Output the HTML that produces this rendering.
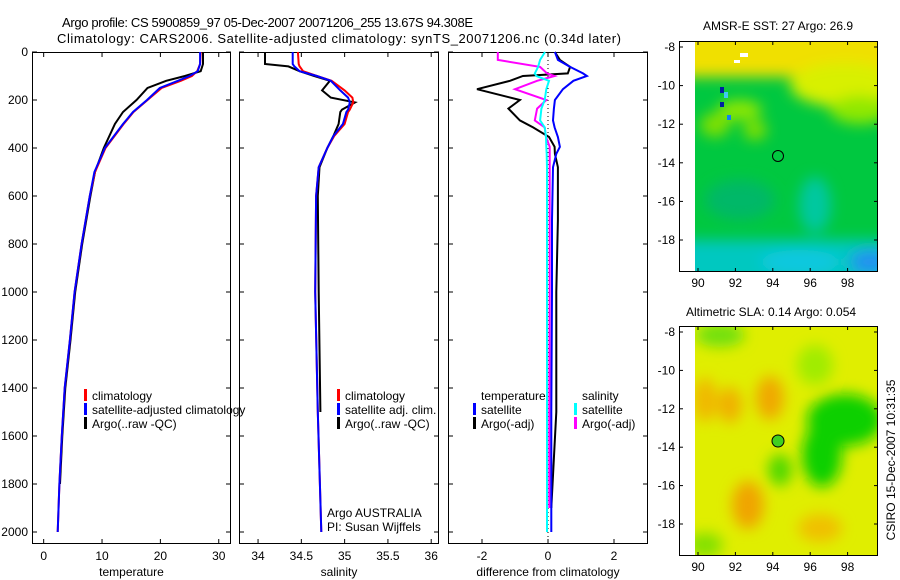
<!DOCTYPE html>
<html><head><meta charset="utf-8"><style>
body{margin:0;background:#fff}
svg{display:block;font-family:"Liberation Sans",sans-serif}
</style></head><body>
<svg id="fig" width="900" height="580" viewBox="0 0 900 580">
<defs>
<filter id="bl" x="-30%" y="-30%" width="160%" height="160%"><feGaussianBlur stdDeviation="7"/></filter>
<clipPath id="c1"><rect x="695" y="41" width="183" height="231"/></clipPath>
<clipPath id="c2"><rect x="695" y="326" width="183" height="230"/></clipPath>
</defs>
<text x="62" y="27" font-size="13" textLength="411">Argo profile: CS 5900859_97 05-Dec-2007 20071206_255 13.67S 94.308E</text>
<text x="57" y="43" font-size="13" textLength="564">Climatology: CARS2006. Satellite-adjusted climatology: synTS_20071206.nc (0.34d later)</text>
<g id="plots"></g>
<!-- SST map -->
<g>
<text x="778" y="30" font-size="12" text-anchor="middle">AMSR-E SST: 27 Argo: 26.9</text>
<g clip-path="url(#c1)">
<rect x="695" y="41" width="183" height="231" fill="#00c840"/>
<g filter="url(#bl)">
<rect x="680" y="25" width="220" height="52" fill="#f0e000"/>
<ellipse cx="845" cy="85" rx="55" ry="22" fill="#d8f000"/>
<ellipse cx="860" cy="110" rx="30" ry="14" fill="#90e800"/>
<ellipse cx="740" cy="110" rx="22" ry="10" fill="#90e800"/>
<ellipse cx="715" cy="125" rx="15" ry="12" fill="#80e000"/>
<ellipse cx="755" cy="130" rx="12" ry="10" fill="#80e000"/>
<ellipse cx="815" cy="205" rx="16" ry="28" fill="#00c8a0"/>
<ellipse cx="740" cy="200" rx="35" ry="20" fill="#00b868"/>
<rect x="680" y="240" width="220" height="45" fill="#00c8c0"/>
<ellipse cx="800" cy="262" rx="40" ry="12" fill="#10c8e0"/>
<ellipse cx="870" cy="262" rx="20" ry="12" fill="#2090f0"/>
</g>
<rect x="720" y="87" width="4" height="6" fill="#0020a0"/>
<rect x="724" y="92" width="4" height="6" fill="#40c8f0"/>
<rect x="720" y="102" width="4" height="5" fill="#0020a0"/>
<rect x="727" y="115" width="4" height="5" fill="#1080f0"/>
<rect x="740" y="53" width="8" height="4" fill="#fff"/>
<rect x="734" y="60" width="6" height="3" fill="#fff"/>
</g>
<rect x="679.5" y="41.5" width="198" height="230" fill="none" stroke="#000"/>
<circle cx="778" cy="156" r="5.5" fill="none" stroke="#000"/>
<g id="map1ax"></g>
</g>
<!-- SLA map -->
<g>
<text x="771" y="316" font-size="12" text-anchor="middle">Altimetric SLA: 0.14 Argo: 0.054</text>
<g clip-path="url(#c2)">
<rect x="695" y="326" width="183" height="230" fill="#e0ee00"/>
<g filter="url(#bl)">
<ellipse cx="720" cy="335" rx="25" ry="12" fill="#70e010"/>
<ellipse cx="815" cy="365" rx="18" ry="20" fill="#a0ec00"/>
<ellipse cx="705" cy="400" rx="12" ry="22" fill="#f0b800"/>
<ellipse cx="730" cy="405" rx="12" ry="18" fill="#f0b000"/>
<ellipse cx="770" cy="398" rx="14" ry="22" fill="#f0a800"/>
<ellipse cx="748" cy="505" rx="16" ry="24" fill="#f0a400"/>
<ellipse cx="845" cy="420" rx="38" ry="26" fill="#10d000"/>
<ellipse cx="822" cy="455" rx="20" ry="32" fill="#10d000"/>
<ellipse cx="780" cy="470" rx="12" ry="16" fill="#50d800"/>
<ellipse cx="820" cy="528" rx="22" ry="14" fill="#f0c000"/>
<ellipse cx="705" cy="545" rx="18" ry="12" fill="#80e000"/>
</g>
</g>
<rect x="679.5" y="326.5" width="198" height="229" fill="none" stroke="#000"/>
<circle cx="778" cy="441" r="6" fill="#40d020" stroke="#000"/>
<g id="map2ax"></g>
</g>
<text transform="translate(895,460) rotate(-90)" font-size="12" text-anchor="middle">CSIRO 15-Dec-2007 10:31:35</text>
</svg>
<script>
// ---- data ----
const tDepth = [0,50,80,100,120,150,200,250,300,400,500,600,800,1000,1200,1400,1600,1800,2000];
const tClim  = [26.9,26.8,26.3,25.4,23.5,20.2,17.8,15.4,13.7,10.6,8.8,7.9,6.5,5.3,4.5,3.6,3.1,2.7,2.4];
const tSat   = [26.8,26.8,26.4,25.0,23.0,19.9,17.7,15.3,13.6,10.5,8.7,7.9,6.5,5.3,4.5,3.6,3.1,2.7,2.4];
const tArgo  = [27.3,27.3,26.9,24.2,21.0,17.8,15.9,13.6,12.2,10.3,8.8,8.0,6.6,5.4,4.6,3.7,3.2,2.8];
const sDepth = [0,50,60,80,100,120,160,190,210,240,250,300,350,400,480,600,1000,1500,2000];
const sClim  = [34.46,34.47,34.48,34.52,34.68,34.85,35.0,35.09,35.10,35.06,35.04,35.0,34.88,34.80,34.70,34.67,34.66,34.69,34.73];
const sSat   = [34.40,34.40,34.42,34.48,34.68,34.84,34.95,35.04,35.06,35.04,35.02,34.98,34.87,34.80,34.70,34.67,34.66,34.69,34.73];
const sArgo  = [34.08,34.08,34.35,34.48,34.65,34.83,34.74,34.84,35.12,34.97,34.95,34.93,34.87,34.80,34.71,34.69,34.70,34.72];
const dDepth = [0,33,62,89,100,120,155,200,236,285,314,354,395,424,480,700,1000,1500,1900,2000];
const dTSat  = [0.21,0.3,0.67,1.06,1.18,0.77,0.45,0.21,0.18,0.15,0.2,0.3,0.36,0.25,0.15,0.12,0.12,0.1,0.1,0.1];
const dTArgo = [0.21,0.36,0.67,0.6,-0.76,-1.15,-2.15,-0.85,-1.2,-0.85,-0.45,0.03,0.2,0.21,0.3,0.3,0.25,0.25,0.1];
const dSSat  = [-0.09,-0.24,-0.3,-0.4,-0.35,0.03,-0.05,-0.1,-0.2,-0.24,-0.1,-0.06,-0.05,-0.04,-0.03,-0.03,-0.03,-0.03,-0.03,-0.03];
const dSArgo = [-1.52,-1.52,-0.24,-0.03,0.2,-0.33,-1.0,-0.05,-0.33,-0.4,-0.1,-0.06,0.05,0.05,0.05,0.05,0.05,0.04,0.04];
const depthTicks = [0,200,400,600,800,1000,1200,1400,1600,1800,2000];
const tTicks = [0,10,20,30];
const sTicks = [34,34.5,35,35.5,36];
const dTicks = [-2,0,2];
const lonTicks = [90,92,94,96,98];
const latTicks = [-8,-10,-12,-14,-16,-18];

const NS='http://www.w3.org/2000/svg';
const Y0=52, Y1=544, DMAX=2050;
const yD = d => Y0 + d/DMAX*(Y1-Y0);
function mk(tag, attrs, parent){const e=document.createElementNS(NS,tag);for(const k in attrs)e.setAttribute(k,attrs[k]);parent.appendChild(e);return e;}
const G=document.getElementById('plots');
function panel(name,x0,x1,vmin,vmax,ticks,label,leftLabels){
  const sx=v=>x0+(v-vmin)/(vmax-vmin)*(x1-x0);
  const g=mk('g',{},G);
  
  
  const fr=mk('rect',{x:x0+.5,y:Y0+.5,width:x1-x0-1,height:Y1-Y0-1,fill:'none',stroke:'#000'},g);
  
  
  depthTicks.forEach(d=>{
    const y=yD(d);
    mk('line',{x1:x0,x2:x0+5,y1:y,y2:y,stroke:'#000'},g);
    mk('line',{x1:x1-5,x2:x1,y1:y,y2:y,stroke:'#000'},g);
    if(leftLabels){const t=mk('text',{x:28,y:y+4,'font-size':12,'text-anchor':'end'},g);t.textContent=d;
      
      }
  });
  ticks.forEach(v=>{
    const x=sx(v);
    mk('line',{x1:x,x2:x,y1:Y1-5,y2:Y1,stroke:'#000'},g);
    mk('line',{x1:x,x2:x,y1:Y0,y2:Y0+5,stroke:'#000'},g);
    const t=mk('text',{x:x,y:Y1+16,'font-size':12,'text-anchor':'middle'},g);t.textContent=v;
    
    
  });
  const xl=mk('text',{x:(x0+x1)/2,y:576,'font-size':12,'text-anchor':'middle'},g);xl.textContent=label;
  
  
  return {g,sx};
}
function line(p,depths,vals,color,nm){
  const pts=vals.map((v,i)=>p.sx(v).toFixed(1)+','+yD(depths[i]).toFixed(1)).join(' ');
  const e=mk('polyline',{points:pts,fill:'none',stroke:color,'stroke-width':2},p.g);
  
  
}
function legend(g,x,y,items){
  items.forEach((it,i)=>{
    const yy=y+i*14;
    if(it[1]) mk('rect',{x:x,y:yy-9,width:3,height:12,fill:it[1]},g);
    const t=mk('text',{x:x+8,y:yy+2,'font-size':12},g);t.textContent=it[0];
    
    
  });
}
const p1=panel('temperature-panel',32,231,-2,32.1,tTicks,'temperature',true);
line(p1,tDepth,tArgo,'#000','temp-argo-line');
line(p1,tDepth,tClim,'#f00','temp-climatology-line');
line(p1,tDepth,tSat,'#00f','temp-satellite-line');
legend(p1.g,84,398,[['climatology','#f00'],['satellite-adjusted climatology','#00f'],['Argo(..raw -QC)','#000']]);

const p2=panel('salinity-panel',239,439,33.78,36.09,sTicks,'salinity',false);
line(p2,sDepth,sArgo,'#000','sal-argo-line');
line(p2,sDepth,sClim,'#f00','sal-climatology-line');
line(p2,sDepth,sSat,'#00f','sal-satellite-line');
legend(p2.g,337,398,[['climatology','#f00'],['satellite adj. clim.','#00f'],['Argo(..raw -QC)','#000']]);
[['Argo AUSTRALIA',517],['PI: Susan Wijffels',531]].forEach(a=>{const t=mk('text',{x:327,y:a[1],'font-size':12},p2.g);t.textContent=a[0];
  
  });

const p3=panel('difference-panel',448,648,-3.03,3.03,dTicks,'difference from climatology',false);
mk('line',{x1:p3.sx(0),x2:p3.sx(0),y1:Y0,y2:Y1,stroke:'#000','stroke-dasharray':'1,3'},p3.g);
line(p3,dDepth.slice(0,dTArgo.length),dTArgo,'#000','temp-argo-diff-line');
line(p3,dDepth.slice(0,dSArgo.length),dSArgo,'#f0f','sal-argo-diff-line');
line(p3,dDepth,dTSat,'#00f','temp-satellite-diff-line');
line(p3,dDepth,dSSat,'#0ff','sal-satellite-diff-line');
legend(p3.g,473,398,[['temperature',null],['satellite','#00f'],['Argo(-adj)','#000']]);
legend(p3.g,574,398,[['salinity',null],['satellite','#0ff'],['Argo(-adj)','#f0f']]);

function mapAxes(id,x0,x1,y0,y1,lat8y,lat18y){
  const g=document.getElementById(id);
  const lx=v=>698+(v-90)*18.7;
  const ly=v=>lat8y+(-8-v)/10*(lat18y-lat8y);
  lonTicks.forEach(v=>{const x=lx(v);
    mk('line',{x1:x,x2:x,y1:y1-4,y2:y1,stroke:'#000'},g);
    mk('line',{x1:x,x2:x,y1:y0,y2:y0+4,stroke:'#000'},g);
    const t=mk('text',{x:x,y:y1+15,'font-size':12,'text-anchor':'middle'},g);t.textContent=v;
    
    });
  latTicks.forEach(v=>{const y=ly(v);
    mk('line',{x1:x0,x2:x0+4,y1:y,y2:y,stroke:'#000'},g);
    mk('line',{x1:x1-4,x2:x1,y1:y,y2:y,stroke:'#000'},g);
    const t=mk('text',{x:x0-4,y:y+4,'font-size':12,'text-anchor':'end'},g);t.textContent=v;
    
    });
}
mapAxes('map1ax',679,878,41,272,47,240);
mapAxes('map2ax',679,878,326,556,332,524);
</script>
</body></html>
